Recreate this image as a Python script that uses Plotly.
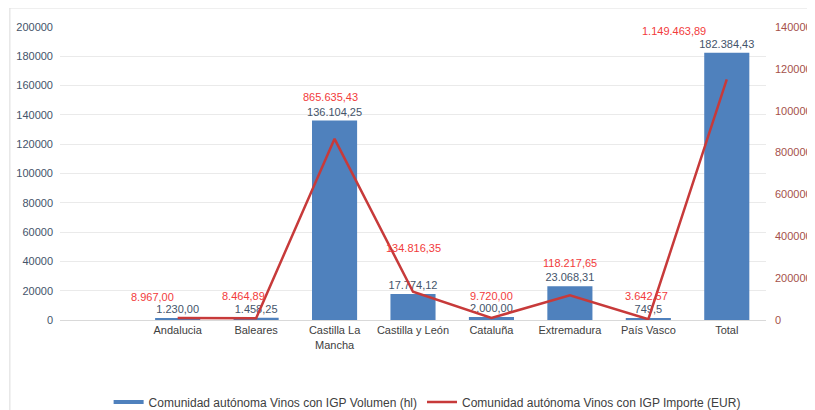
import plotly.graph_objects as go

categories = ["Andalucia", "Baleares", "Castilla La<br>Mancha", "Castilla y León",
              "Cataluña", "Extremadura", "País Vasco", "Total"]
volumen_hl = [1230.00, 1458.25, 136104.25, 17774.12, 2000.00, 23068.31, 749.5, 182384.43]
volumen_labels = ["1.230,00", "1.458,25", "136.104,25", "17.774,12", "2.000,00",
                  "23.068,31", "749,5", "182.384,43"]
importe_eur = [8967.00, 8464.89, 865635.43, 134816.35, 9720.00, 118217.65, 3642.57, 1149463.89]
importe_labels = ["8.967,00", "8.464,89", "865.635,43", "134.816,35", "9.720,00",
                  "118.217,65", "3.642,57", "1.149.463,89"]
left_ticks = list(range(0, 200001, 20000))
right_ticks = list(range(0, 1400001, 200000))

# label offsets (pixels) for the red value labels, relative to the bar tops
red_xshift = [-25, -13, -4, 0, 0, 0, -2, -53]
red_yshift = [21, 22, 24, 46, 21, 23, 23, 22]

BLUE = "#4F81BD"
RED_LINE = "#C73A3A"
RED_TEXT = "#F23B3B"
FONT = "Liberation Sans, Arial, sans-serif"

fig = go.Figure()
fig.add_trace(go.Bar(
    x=categories, y=volumen_hl, marker_color=BLUE, marker_line_width=0,
    text=volumen_labels, textposition="outside", constraintext="none",
    textfont=dict(color="#44546A", size=11, family=FONT),
    cliponaxis=False, showlegend=False, name="Comunidad autónoma Vinos con IGP Volumen (hl)",
))
fig.add_trace(go.Scatter(
    x=categories, y=importe_eur, yaxis="y2", mode="lines",
    line=dict(color=RED_LINE, width=2.5), showlegend=False,
    name="Comunidad autónoma Vinos con IGP Importe (EUR)",
))
# legend entries drawn as short thick lines
fig.add_trace(go.Scatter(x=[None], y=[None], mode="lines", line=dict(color=BLUE, width=4),
                         name="Comunidad autónoma Vinos con IGP Volumen (hl)"))
fig.add_trace(go.Scatter(x=[None], y=[None], mode="lines", line=dict(color=RED_LINE, width=2.5),
                         name="Comunidad autónoma Vinos con IGP Importe (EUR)"))

for i, (c, v, lab) in enumerate(zip(categories, volumen_hl, importe_labels)):
    fig.add_annotation(x=c, y=v, xref="x", yref="y", text=lab, showarrow=False,
                       xshift=red_xshift[i], yshift=red_yshift[i], yanchor="middle",
                       font=dict(color=RED_TEXT, size=11, family=FONT))

fig.add_shape(type="rect", xref="paper", yref="paper", x0=-0.071, x1=1.2, y0=-0.5, y1=1.065,
              line=dict(color="#DCDCDC", width=1), fillcolor="rgba(0,0,0,0)", layer="below")

fig.update_layout(
    width=807, height=402,
    margin=dict(l=52, r=49, t=19, b=90, autoexpand=False),
    paper_bgcolor="white", plot_bgcolor="white",
    font=dict(family=FONT, size=11, color="#404040"),
    bargap=0.425,
    xaxis=dict(range=[-1.5, 7.5], showgrid=False, showline=True, linecolor="#D9D9D9",
               ticks="", tickfont=dict(color="#404040", size=11), automargin=False),
    yaxis=dict(range=[0, 200000], tickvals=left_ticks, ticktext=[str(t) for t in left_ticks],
               showgrid=True, gridcolor="#EAEAEA", zeroline=False, showline=False,
               tickfont=dict(color="#44546A", size=11), ticklabelstandoff=6, automargin=False),
    yaxis2=dict(range=[0, 1400000], tickvals=right_ticks, ticktext=[str(t) for t in right_ticks],
                overlaying="y", side="right", showgrid=False, zeroline=False, showline=False,
                tickfont=dict(color="#A5514A", size=11), ticklabelstandoff=8, automargin=False),
    legend=dict(orientation="h", x=0.52, xanchor="center", yref="paper", y=-0.28,
                yanchor="middle", font=dict(size=12, color="#404040", family=FONT),
                itemwidth=30, tracegroupgap=0),
)

fig.write_html("out.html")
